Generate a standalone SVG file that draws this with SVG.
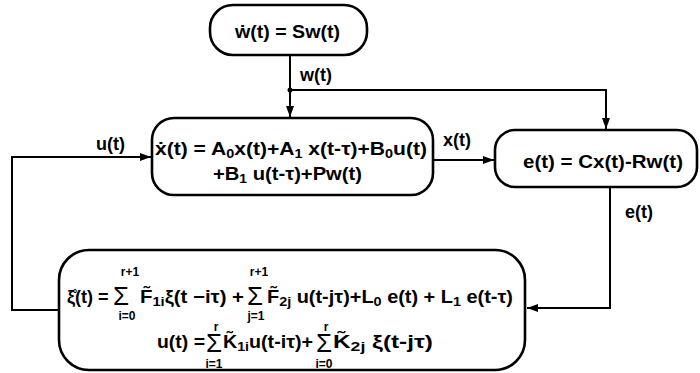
<svg xmlns="http://www.w3.org/2000/svg" width="700" height="373" viewBox="0 0 700 373">
<style>
text{font-family:"Liberation Sans","DejaVu Sans",Arial,sans-serif;font-weight:bold;fill:#000}
.m{font-size:19px}
.l{font-size:18px}
.s{font-size:13px}
.lim{font-size:12px;text-anchor:middle}
.sig{font-family:"Liberation Sans",sans-serif;font-weight:normal;font-size:26px}
.box{fill:#fff;stroke:#000;stroke-width:2.6}
.c{fill:none;stroke:#000;stroke-width:2}
</style>
<defs>
<marker id="ah" markerUnits="userSpaceOnUse" markerWidth="11" markerHeight="8" refX="11" refY="4" orient="auto">
<path d="M0,0 L11,4 L0,8 z" fill="#000"/>
</marker>
</defs>
<g id="connectors">
<path class="c" d="M290,55 V117" marker-end="url(#ah)"/>
<path class="c" d="M290,90 H606 V129" marker-end="url(#ah)"/>
<circle cx="290" cy="90" r="2.5" fill="#000"/>
<path class="c" d="M59,310 H12 V157 H151" marker-end="url(#ah)"/>
<path class="c" d="M433,160 H494" marker-end="url(#ah)"/>
<path class="c" d="M610,187 V308 H527" marker-end="url(#ah)"/>
<text class="l" x="300" y="81">w(t)</text>
<text class="l" x="96" y="150">u(t)</text>
<text class="l" x="443" y="146">x(t)</text>
<text class="l" x="625" y="218">e(t)</text>
</g>
<g id="exo">
<rect class="box" x="210" y="5" width="157" height="50" rx="23"/>
<text class="m" x="235" y="38" textLength="105" lengthAdjust="spacingAndGlyphs">ẇ(t) = Sw(t)</text>
</g>
<g id="plant">
<rect class="box" x="152" y="118" width="281" height="77" rx="22"/>
<text class="m" x="155" y="155" textLength="272" lengthAdjust="spacingAndGlyphs">ẋ(t) = A<tspan class="s" dy="3">0</tspan><tspan dy="-3">x(t)+A</tspan><tspan class="s" dy="3">1</tspan><tspan dy="-3"> x(t-τ)+B</tspan><tspan class="s" dy="3">0</tspan><tspan dy="-3">u(t)</tspan></text>
<text class="m" x="213" y="180" textLength="149" lengthAdjust="spacingAndGlyphs">+B<tspan class="s" dy="3">1</tspan><tspan dy="-3"> u(t-τ)+Pw(t)</tspan></text>
</g>
<g id="error">
<rect class="box" x="495" y="130" width="202" height="57" rx="20"/>
<text class="m" x="523" y="168" textLength="160" lengthAdjust="spacingAndGlyphs">e(t) = Cx(t)-Rw(t)</text>
</g>
<g id="controller">
<rect class="box" x="59" y="250" width="466" height="120" rx="30"/>
<text class="l" x="67" y="303">ξ̊(t) =</text>
<text class="sig" x="113" y="305">Σ</text>
<text class="lim" x="130" y="276">r+1</text>
<text class="lim" x="127" y="320">i=0</text>
<text class="l" x="140" y="303" textLength="104" lengthAdjust="spacingAndGlyphs">F̃<tspan class="s" dy="3">1i</tspan><tspan dy="-3">ξ(t −iτ) +</tspan></text>
<text class="sig" x="247" y="305">Σ</text>
<text class="lim" x="259" y="276">r+1</text>
<text class="lim" x="256" y="320">j=1</text>
<text class="l" x="267" y="303" textLength="246" lengthAdjust="spacingAndGlyphs">F̃<tspan class="s" dy="3">2j</tspan><tspan dy="-3"> u(t-jτ)+L</tspan><tspan class="s" dy="3">0</tspan><tspan dy="-3"> e(t) + L</tspan><tspan class="s" dy="3">1</tspan><tspan dy="-3"> e(t-τ)</tspan></text>
<text class="l" x="157" y="348" textLength="48" lengthAdjust="spacingAndGlyphs">u(t) =</text>
<text class="sig" x="206" y="352">Σ</text>
<text class="lim" x="216" y="331">r</text>
<text class="lim" x="214" y="368">i=1</text>
<text class="l" x="223" y="348" textLength="90" lengthAdjust="spacingAndGlyphs">K̃<tspan class="s" dy="3">1i</tspan><tspan dy="-3">u(t-iτ)+</tspan></text>
<text class="sig" x="316" y="352">Σ</text>
<text class="lim" x="326" y="331">r</text>
<text class="lim" x="324" y="368">i=0</text>
<text class="l" x="333" y="348" textLength="100" lengthAdjust="spacingAndGlyphs">K̃<tspan class="s" dy="3">2j</tspan><tspan dy="-3"> ξ(t-jτ)</tspan></text>
</g>
</svg>
